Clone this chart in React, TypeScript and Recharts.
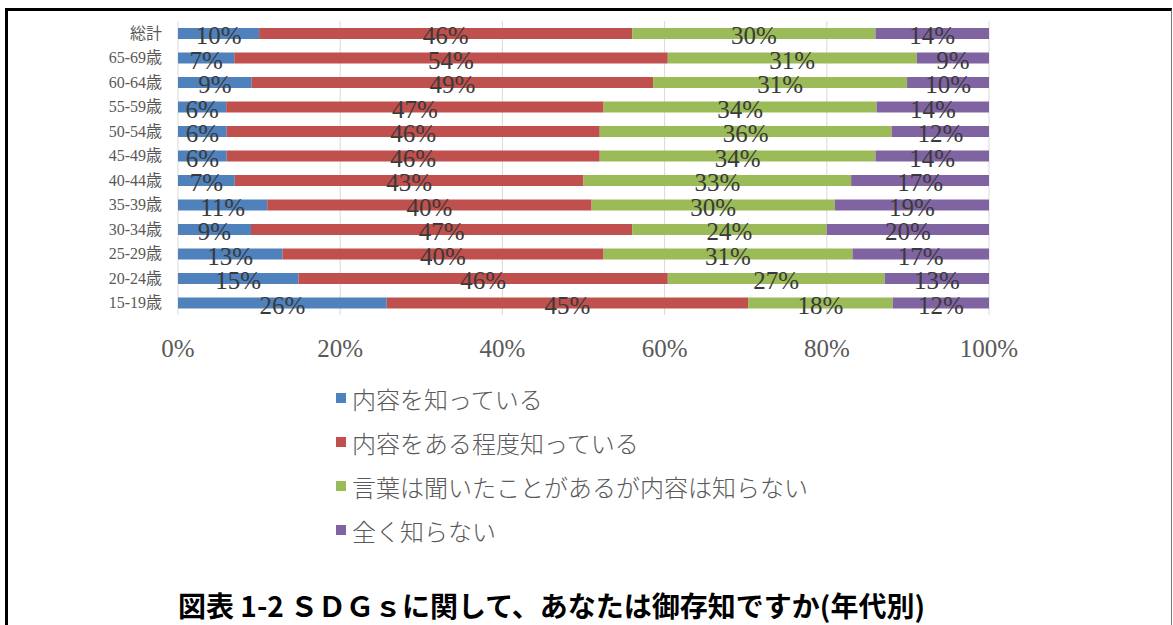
import { Bar, BarChart, CartesianGrid, LabelList, Legend, XAxis, YAxis } from "recharts";

const categories = [
  "総計",
  "65-69歳",
  "60-64歳",
  "55-59歳",
  "50-54歳",
  "45-49歳",
  "40-44歳",
  "35-39歳",
  "30-34歳",
  "25-29歳",
  "20-24歳",
  "15-19歳",
];

const knowWell = [10, 7, 9, 6, 6, 6, 7, 11, 9, 13, 15, 26];
const knowSome = [46, 54, 49, 47, 46, 46, 43, 40, 47, 40, 46, 45];
const heardOnly = [30, 31, 31, 34, 36, 34, 33, 30, 24, 31, 27, 18];
const notAtAll = [14, 9, 10, 14, 12, 14, 17, 19, 20, 17, 13, 12];

const xTicks = [0, 0.2, 0.4, 0.6, 0.8, 1];

const series = [
  { key: "a", name: "内容を知っている", color: "#4F81BD" },
  { key: "b", name: "内容をある程度知っている", color: "#C0504D" },
  { key: "c", name: "言葉は聞いたことがあるが内容は知らない", color: "#9BBB59" },
  { key: "d", name: "全く知らない", color: "#8064A2" },
];

const data = categories.map((name, i) => ({
  name,
  a: knowWell[i],
  b: knowSome[i],
  c: heardOnly[i],
  d: notAtAll[i],
}));

const serif = "'Liberation Serif', 'Noto Sans CJK JP', serif";

const renderPct = (props: any) => {
  const { x, y, width, height, value } = props;
  return (
    <text
      x={Number(x) + Number(width) / 2}
      y={Number(y) + Number(height) / 2 + 2}
      textAnchor="middle"
      dominantBaseline="central"
      fontSize={25}
      fontFamily={serif}
      fill="#3a3a3a"
    >
      {value}%
    </text>
  );
};

// keep the legend in series order (recharts sorts the payload otherwise)
const renderLegend = () => (
  <div>
    {series.map((s) => (
      <div
        key={s.key}
        style={{ display: "flex", alignItems: "center", height: 44 }}
      >
        <span
          style={{
            display: "inline-block",
            width: 10,
            height: 10,
            background: s.color,
            marginRight: 6,
          }}
        />
        <span
          style={{
            fontFamily: "'Noto Sans CJK JP', sans-serif",
            fontWeight: 300,
            fontSize: 24,
            color: "#595959",
          }}
        >
          {s.name}
        </span>
      </div>
    ))}
  </div>
);

export default function App() {
  return (
    <div
      style={{
        position: "absolute",
        top: 0,
        left: 0,
        width: 1173,
        height: 625,
        background: "#fff",
        overflow: "hidden",
      }}
    >
      <div
        style={{
          position: "absolute",
          top: 8,
          left: 5,
          width: 1163,
          height: 640,
          borderTop: "3px solid #000",
          borderLeft: "3px solid #000",
          borderRight: "1px solid #777",
        }}
      />
      <BarChart
        width={1173}
        height={625}
        data={data}
        layout="vertical"
        stackOffset="expand"
        barSize={11}
        margin={{ top: 21, right: 184, bottom: 270, left: 0 }}
      >
        <CartesianGrid horizontal={false} stroke="#d9d9d9" />
        <XAxis
          type="number"
          domain={[0, 1]}
          ticks={xTicks}
          tickFormatter={(v) => `${Math.round(Number(v) * 100)}%`}
          axisLine={false}
          tickLine={false}
          tickSize={0}
          tickMargin={24}
          height={40}
          tick={{ fill: "#595959", fontSize: 25, fontFamily: serif }}
        />
        <YAxis
          type="category"
          dataKey="name"
          width={178}
          interval={0}
          axisLine={false}
          tickLine={false}
          tickSize={0}
          tickMargin={16}
          tick={{ fill: "#595959", fontSize: 16, fontFamily: serif }}
        />
        <Legend
          layout="vertical"
          align="center"
          verticalAlign="middle"
          content={renderLegend}
          wrapperStyle={{ top: 376, left: 336, width: "auto" }}
        />
        {series.map((s) => (
          <Bar
            key={s.key}
            dataKey={s.key}
            name={s.name}
            stackId="all"
            fill={s.color}
            isAnimationActive={false}
          >
            <LabelList dataKey={s.key} content={renderPct} />
          </Bar>
        ))}
      </BarChart>
      <div
        style={{
          position: "absolute",
          top: 588,
          left: 178,
          fontFamily: "'Noto Sans CJK JP', sans-serif",
          fontWeight: 700,
          fontSize: 28,
          lineHeight: "34px",
          color: "#000",
          whiteSpace: "nowrap",
        }}
      >
        図表 1-2 ＳＤＧｓに関して、あなたは御存知ですか(年代別)
      </div>
    </div>
  );
}
